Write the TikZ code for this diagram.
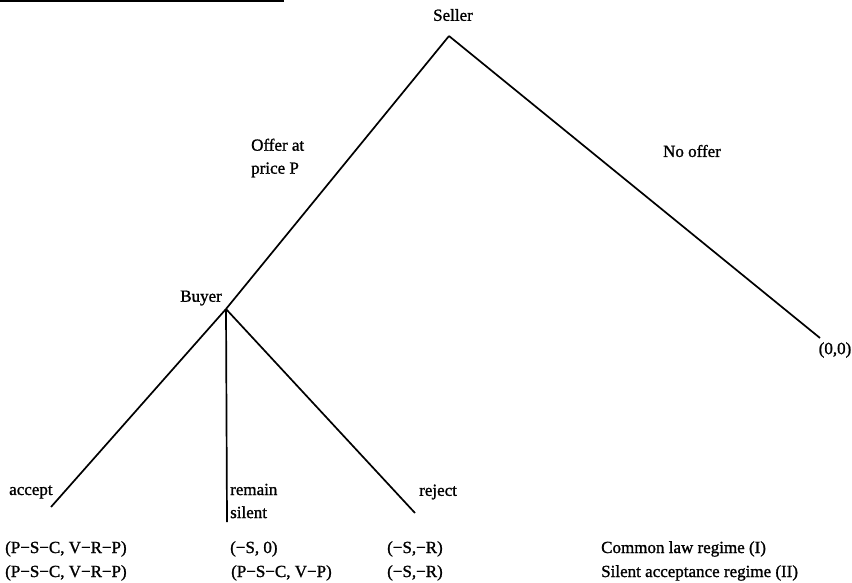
\documentclass[tikz,border=0pt]{standalone}
\usepackage{fontspec}
\setmainfont{Liberation Serif}[FakeBold=1.2]
\begin{document}
\begin{tikzpicture}[x=1pt,y=-1pt,
  branch/.style={line width=1.7pt},
  lbl/.style={font=\fontsize{17}{23}\selectfont, inner sep=0pt, align=left},
  pay/.style={lbl, anchor=base west}]
\useasboundingbox (0,0) rectangle (852,582);
% scan border line at top
\coordinate (tl) at (0,1);
\coordinate (tr) at (284,1);
\draw[line width=1.5pt] (tl) -- (tr);
% nodes
\node[lbl] (sellerlbl) at (453,15) {Seller};
\coordinate (seller) at (449,36);
\coordinate (buyer) at (226,309);
\node[lbl, anchor=east] (buyerlbl) at (222,298) {Buyer};
\coordinate (none) at (820,338);
\node[lbl] (zz) at (835,350) {(0,0)};
\coordinate (acc) at (51,507);
\coordinate (sil) at (227,522);
\coordinate (rej) at (415,513);
% branches
\draw[branch] (seller) -- (buyer);
\draw[branch] (seller) -- (none);
\draw[branch] (buyer) -- (acc);
\draw[branch] (buyer) -- (sil);
\draw[branch] (buyer) -- (rej);
% branch labels
\node[lbl, anchor=west] (offer) at (251,158) {Offer at\\price P};
\node[lbl] (nooffer) at (692,151) {No offer};
\node[lbl, anchor=west] (acclbl) at (9,492) {accept};
\node[lbl, anchor=west] (sillbl) at (230,501) {remain\\silent};
\node[lbl, anchor=west] (rejlbl) at (419,492) {reject};
% payoffs
\node[pay] (p11) at (5,553) {(P−S−C, V−R−P)};
\node[pay] (p12) at (230,553) {(−S, 0)};
\node[pay] (p13) at (387,553) {(−S,−R)};
\node[pay] (p14) at (601,553) {Common law regime (I)};
\node[pay] (p21) at (5,577) {(P−S−C, V−R−P)};
\node[pay] (p22) at (231,577) {(P−S−C, V−P)};
\node[pay] (p23) at (387,577) {(−S,−R)};
\node[pay] (p24) at (601,577) {Silent acceptance regime (II)};
\end{tikzpicture}
\end{document}
